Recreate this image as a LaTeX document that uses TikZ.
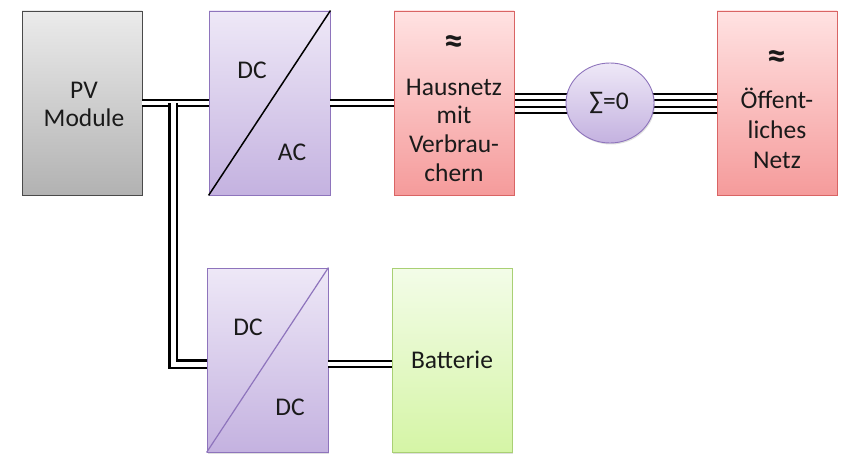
\documentclass[tikz,border=0pt]{standalone}
\usepackage{fontspec}
\setmainfont{Carlito}
\usetikzlibrary{shadows,shapes.geometric}
\pgfdeclarelayer{background}
\pgfsetlayers{background,main}
\definecolor{grayT}{HTML}{EBEBEB}
\definecolor{grayB}{HTML}{B2B2B2}
\definecolor{grayE}{HTML}{4A4A4A}
\definecolor{purT}{HTML}{EEE8F7}
\definecolor{purB}{HTML}{C4B2E0}
\definecolor{purE}{HTML}{8E74BC}
\definecolor{redT}{HTML}{FFE2E2}
\definecolor{redB}{HTML}{F59B9B}
\definecolor{redE}{HTML}{D96464}
\definecolor{grnT}{HTML}{F3FCE8}
\definecolor{grnB}{HTML}{D5F5A6}
\definecolor{grnE}{HTML}{A9D074}
\definecolor{txt}{HTML}{1A1A1A}
\tikzset{
  blk/.style={rectangle, minimum width=120pt, minimum height=184pt, line width=0.9pt,
    drop shadow={opacity=0.25, shadow xshift=1pt, shadow yshift=-1.5pt}},
  pvbox/.style={blk, draw=grayE, top color=grayT, bottom color=grayB},
  conv/.style={blk, minimum width=121pt, draw=purE, top color=purT, bottom color=purB},
  netbox/.style={blk, draw=redE, top color=redT, bottom color=redB},
  batbox/.style={blk, draw=grnE, top color=grnT, bottom color=grnB},
  sumc/.style={ellipse, minimum width=88pt, minimum height=80pt, line width=0.9pt, draw=purE,
    top color=purT, bottom color=purB,
    drop shadow={opacity=0.25, shadow xshift=1pt, shadow yshift=-1.5pt}},
  lbl/.style={text=txt, font=\fontsize{25.5}{28}\selectfont, align=center, inner sep=0pt},
  approx/.style={lbl, font=\bfseries\fontsize{38}{38}\selectfont},
  dbl/.style={draw=black, line width=1.9pt, double=white, double distance=3.4pt},
  dblv/.style={draw=black, line width=2.2pt, double=white, double distance=5pt},
  wire/.style={draw=black, line width=2pt},
}
\begin{document}
\begin{tikzpicture}[x=1pt,y=-1pt]
\useasboundingbox (0,0) rectangle (842,454);
\node[pvbox] (pv) at (82,103) {};
\node[conv] (dcac) at (269.5,103) {};
\node[netbox] (haus) at (454,103) {};
\node[sumc] (sum) at (610,103) {};
\node[netbox] (oeff) at (777,103) {};
\node[conv] (dcdc) at (267.5,360) {};
\node[batbox] (bat) at (452,360) {};

\draw[black, line width=1.5pt] (dcac.south west) -- (dcac.north east);
\draw[purE, line width=1.2pt] (dcdc.south west) -- (dcdc.north east);

\coordinate (j) at (173,103);
\draw[dbl] (pv.east) -- (dcac.west);
\draw[dblv] (j) |- ([yshift=-4pt]dcdc.west);
\draw[dbl] (dcac.east) -- (haus.west);
\draw[dbl] ([yshift=-4pt]dcdc.east) -- ([yshift=-4pt]bat.west);
\begin{pgfonlayer}{background}
\foreach \s in {9.8,3.3,-3.3,-9.8}{
  \draw[wire] ([yshift=\s pt-0.5pt]haus.east) -- ([yshift=\s pt-0.5pt]sum.center);
  \draw[wire] ([yshift=\s pt-0.5pt]sum.center) -- ([yshift=\s pt-0.5pt]oeff.west);
}
\end{pgfonlayer}

\node[lbl] (pvt) at (84,104) {PV\\Module};
\node[lbl] (dc1) at (252,70) {DC};
\node[lbl] (ac1) at (292,152) {AC};
\node[lbl] (dc2) at (248,327) {DC};
\node[lbl] (dc3) at (290,407) {DC};
\node[lbl] (batt) at (452,360) {Batterie};
\node[lbl] (sumt) at (609,103) {∑=0};
\node[approx] (ap1) at (454,45) {≈};
\node[lbl, font=\fontsize{25.5}{28.7}\selectfont] (haust) at (454,130) {Hausnetz\\mit\\Verbrau-\\chern};
\node[approx] (ap2) at (777,60) {≈};
\node[lbl, font=\fontsize{25.5}{30}\selectfont] (oefft) at (777,128) {Öffent-\\liches\\Netz};
\end{tikzpicture}
\end{document}
